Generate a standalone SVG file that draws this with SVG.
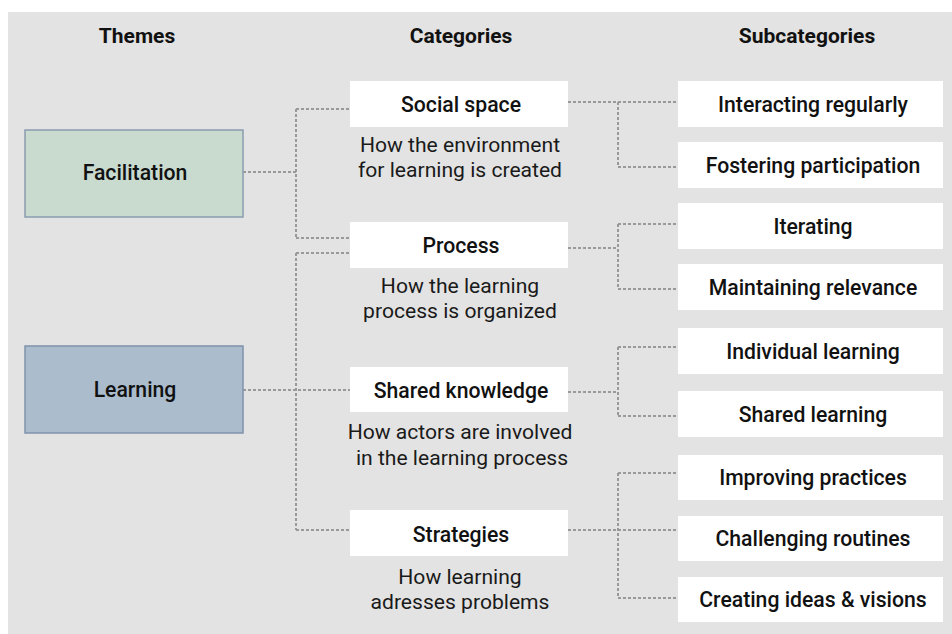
<svg xmlns="http://www.w3.org/2000/svg" width="952" height="634" viewBox="0 0 952 634">
<style>
text{font-family:Roboto,"Liberation Sans",sans-serif;fill:#111;text-anchor:middle}
.h{font-size:21px;font-weight:700}
.t{font-size:21.2px;font-weight:500}
.c{font-size:21.2px;font-weight:500}
.d{font-size:21.1px;font-weight:400;fill:#1a1a1a}
.s{font-size:21.2px;font-weight:500}
.box{fill:#fff}
.con{fill:none;stroke:#999;stroke-width:2;stroke-dasharray:3 2}
</style>
<rect x="8" y="12" width="944" height="622" fill="#e3e3e3"/>
<text class="h" x="137" y="43">Themes</text>
<text class="h" x="461" y="43">Categories</text>
<text class="h" x="807" y="43">Subcategories</text>
<g id="connectors">
<path class="con" d="M243 172H296M296 109V238M296 109H350M296 238H350"/>
<path class="con" d="M243 390H350M296 253V530M296 253H350M296 530H350"/>
<path class="con" d="M568 102H678M618 102V167H678"/>
<path class="con" d="M568 248H618M618 224V289M618 224H678M618 289H678"/>
<path class="con" d="M568 392H618M618 347V416M618 347H678M618 416H678"/>
<path class="con" d="M568 530H678M618 473V598M618 473H678M618 598H678"/>
</g>
<g id="facilitation"><rect x="25" y="130" width="218" height="87" fill="#c9dacf" stroke="#8a9cb0" stroke-width="1.5"/><text class="t" x="135" y="180">Facilitation</text></g>
<g id="learning"><rect x="25" y="346" width="218" height="87" fill="#abbccd" stroke="#7f93ab" stroke-width="1.5"/><text class="t" x="135" y="397">Learning</text></g>
<g id="social-space"><rect class="box" x="350" y="81" width="218" height="46"/><text class="c" x="461" y="112">Social space</text><text class="d" x="460" y="152">How the environment</text><text class="d" x="460" y="177">for learning is created</text></g>
<g id="process"><rect class="box" x="350" y="222" width="218" height="46"/><text class="c" x="461" y="253">Process</text><text class="d" x="460" y="293">How the learning</text><text class="d" x="460" y="318">process is organized</text></g>
<g id="shared-knowledge"><rect class="box" x="350" y="367" width="218" height="45"/><text class="c" x="461" y="398">Shared knowledge</text><text class="d" x="460" y="439">How actors are involved</text><text class="d" x="462" y="465">in the learning process</text></g>
<g id="strategies"><rect class="box" x="350" y="510" width="218" height="46"/><text class="c" x="461" y="542">Strategies</text><text class="d" x="460" y="584">How learning</text><text class="d" x="460" y="609">adresses problems</text></g>
<g id="interacting"><rect class="box" x="678" y="81" width="265" height="46"/><text class="s" x="813" y="112">Interacting regularly</text></g>
<g id="fostering"><rect class="box" x="678" y="142" width="265" height="46"/><text class="s" x="813" y="173">Fostering participation</text></g>
<g id="iterating"><rect class="box" x="678" y="203" width="265" height="46"/><text class="s" x="813" y="234">Iterating</text></g>
<g id="maintaining"><rect class="box" x="678" y="264" width="265" height="46"/><text class="s" x="813" y="295">Maintaining relevance</text></g>
<g id="individual"><rect class="box" x="678" y="328" width="265" height="46"/><text class="s" x="813" y="359">Individual learning</text></g>
<g id="shared-learning"><rect class="box" x="678" y="391" width="265" height="46"/><text class="s" x="813" y="422">Shared learning</text></g>
<g id="improving"><rect class="box" x="678" y="455" width="265" height="45"/><text class="s" x="813" y="485">Improving practices</text></g>
<g id="challenging"><rect class="box" x="678" y="516" width="265" height="45"/><text class="s" x="813" y="546">Challenging routines</text></g>
<g id="creating"><rect class="box" x="678" y="577" width="265" height="45"/><text class="s" x="813" y="607">Creating ideas &amp; visions</text></g>
</svg>
